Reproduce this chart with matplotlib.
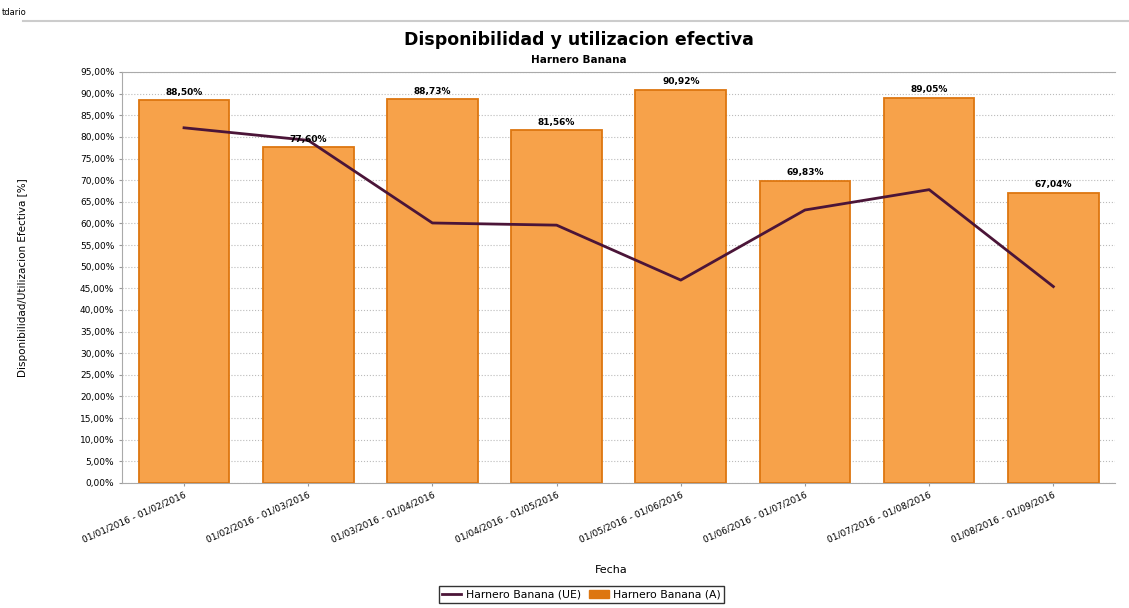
import matplotlib.pyplot as plt
from matplotlib.lines import Line2D
from matplotlib.patches import Patch
import numpy as np

# datos
periodos = ["01/01/2016 - 01/02/2016", "01/02/2016 - 01/03/2016",
            "01/03/2016 - 01/04/2016", "01/04/2016 - 01/05/2016",
            "01/05/2016 - 01/06/2016", "01/06/2016 - 01/07/2016",
            "01/07/2016 - 01/08/2016", "01/08/2016 - 01/09/2016"]
disponibilidad = [88.50, 77.60, 88.73, 81.56, 90.92, 69.83, 89.05, 67.04]  # (A)
utilizacion = [82.1, 79.2, 60.1, 59.6, 46.9, 63.1, 67.8, 45.4]  # (UE)
yticks = np.arange(0, 100, 5)

color_barra = '#F7A24A'
color_borde = '#DD7610'
color_linea = '#4B1538'

fig = plt.figure(figsize=(11.29, 6.08), dpi=100)
ax = fig.add_axes([0.108, 0.2056, 0.88, 0.676])

x = np.arange(len(periodos))
ax.bar(x, disponibilidad, width=0.73, color=color_barra, edgecolor=color_borde,
       linewidth=1.3, zorder=2)
ax.plot(x, utilizacion, color=color_linea, linewidth=2, zorder=3)

for xi, v in zip(x, disponibilidad):
    ax.text(xi, v + 0.8, f"{v:.2f}%".replace('.', ','), ha='center', va='bottom',
            fontsize=6.5, fontweight='bold', zorder=4)

ax.set_xlim(-0.5, len(periodos) - 0.5)
ax.set_ylim(0, 95)
ax.set_yticks(yticks)
ax.set_yticklabels([f"{t:.2f}%".replace('.', ',') for t in yticks], fontsize=6.5)
ax.set_xticks(x)
ax.set_xticklabels(periodos, rotation=24, ha='right', rotation_mode='anchor', fontsize=6.5)
ax.tick_params(axis='both', length=2, color='#999999')
ax.grid(axis='y', linestyle=':', color='#bbbbbb', linewidth=0.8, zorder=0)
for s in ax.spines.values():
    s.set_color('#aaaaaa')
ax.spines['right'].set_visible(False)

ax.set_ylabel("Disponibilidad/Utilizacion Efectiva [%]", fontsize=7.5)
ax.yaxis.set_label_coords(-0.095, 0.5)
ax.set_xlabel("Fecha", fontsize=8)
ax.xaxis.set_label_coords(0.493, -0.2)

fig.text(0.513, 0.935, "Disponibilidad y utilizacion efectiva", ha='center', va='center',
         fontsize=12.5, fontweight='bold')
fig.text(0.513, 0.902, "Harnero Banana", ha='center', va='center',
         fontsize=7.5, fontweight='bold')
fig.text(0.002, 0.98, "tdario", ha='left', va='center', fontsize=6)
fig.add_artist(Line2D([0.02, 1], [0.966, 0.966], color='#cccccc', linewidth=1.5,
                      transform=fig.transFigure))

handles = [Line2D([0], [0], color=color_linea, linewidth=2),
           Patch(facecolor=color_borde, edgecolor=color_borde)]
fig.legend(handles, ["Harnero Banana (UE)", "Harnero Banana (A)"], loc='center',
           bbox_to_anchor=(0.515, 0.022), ncol=2, fontsize=7.8, frameon=True,
           edgecolor='black', fancybox=False, handlelength=1.8, columnspacing=0.8,
           handletextpad=0.4, borderpad=0.3)

plt.savefig('out.png', dpi=100)
